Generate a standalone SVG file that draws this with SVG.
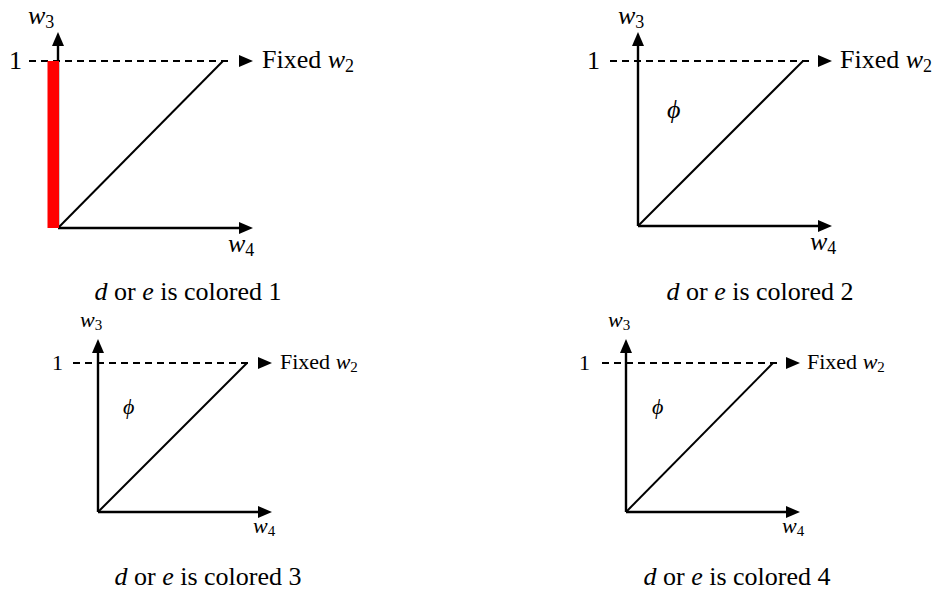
<svg xmlns="http://www.w3.org/2000/svg" xmlns:xlink="http://www.w3.org/1999/xlink" width="936" height="596" viewBox="0 0 936 596">
<style>
.ax{stroke:#000;stroke-width:2.4;fill:none}
.dg{stroke:#000;stroke-width:2;fill:none}
.ds{stroke:#000;stroke-width:2;fill:none;stroke-dasharray:7 5}
text{font-family:'Liberation Serif','Times New Roman','DejaVu Serif',serif;fill:#000}
.m{font-style:italic}
.cap{font-size:26px;text-anchor:middle}
</style>
<defs>
<path id="ah" d="M0,0 L-14,-6 L-14,6 Z" fill="#000"/>
</defs>
<g id="panel1">
<line class="ds" x1="29" y1="61" x2="233" y2="61"/>
<use xlink:href="#ah" transform="translate(253,61)"/>
<line class="ax" x1="58" y1="228" x2="58" y2="43"/>
<use xlink:href="#ah" transform="translate(58,32) rotate(-90)"/>
<line class="ax" x1="58" y1="228" x2="242" y2="228"/>
<use xlink:href="#ah" transform="translate(253,228)"/>
<line class="dg" x1="58" y1="228" x2="223" y2="61"/>
<rect x="47.5" y="61" width="11.5" height="167" fill="#ff0000"/>
<text x="22" y="69" font-size="26" text-anchor="end">1</text>
<text class="m" x="28" y="24" font-size="26">w<tspan font-style="normal" font-size="18" dy="4">3</tspan></text>
<text class="m" x="228" y="252" font-size="26">w<tspan font-style="normal" font-size="18" dy="4">4</tspan></text>
<text x="262" y="68" font-size="26">Fixed <tspan font-style="italic">w</tspan><tspan font-size="18" dy="4">2</tspan></text>
<text class="cap" x="188" y="300"><tspan font-style="italic">d</tspan> or <tspan font-style="italic">e</tspan> is colored 1</text>
</g>
<g id="panel2">
<line class="ds" x1="610" y1="61" x2="812" y2="61"/>
<use xlink:href="#ah" transform="translate(832,61)"/>
<line class="ax" x1="638" y1="226" x2="638" y2="43"/>
<use xlink:href="#ah" transform="translate(638,32) rotate(-90)"/>
<line class="ax" x1="638" y1="226" x2="821" y2="226"/>
<use xlink:href="#ah" transform="translate(832,226)"/>
<line class="dg" x1="638" y1="226" x2="803" y2="61"/>
<text x="600" y="69" font-size="26" text-anchor="end">1</text>
<text class="m" x="667" y="118" font-size="26">ϕ</text>
<text class="m" x="618" y="24" font-size="26">w<tspan font-style="normal" font-size="18" dy="4">3</tspan></text>
<text class="m" x="810" y="250" font-size="26">w<tspan font-style="normal" font-size="18" dy="4">4</tspan></text>
<text x="840" y="68" font-size="26">Fixed <tspan font-style="italic">w</tspan><tspan font-size="18" dy="4">2</tspan></text>
<text class="cap" x="760" y="300"><tspan font-style="italic">d</tspan> or <tspan font-style="italic">e</tspan> is colored 2</text>
</g>
<g id="panel3">
<line class="ds" x1="73" y1="363" x2="252" y2="363"/>
<use xlink:href="#ah" transform="translate(272,363)"/>
<line class="ax" x1="98" y1="512" x2="98" y2="350"/>
<use xlink:href="#ah" transform="translate(98,339) rotate(-90)"/>
<line class="ax" x1="98" y1="512" x2="261" y2="512"/>
<use xlink:href="#ah" transform="translate(272,512)"/>
<line class="dg" x1="98" y1="512" x2="247" y2="363"/>
<text x="63" y="370" font-size="22" text-anchor="end">1</text>
<text class="m" x="123" y="414" font-size="22">ϕ</text>
<text class="m" x="80" y="327" font-size="22">w<tspan font-style="normal" font-size="15" dy="3">3</tspan></text>
<text class="m" x="253" y="533" font-size="22">w<tspan font-style="normal" font-size="15" dy="3">4</tspan></text>
<text x="280" y="369" font-size="22">Fixed <tspan font-style="italic">w</tspan><tspan font-size="15" dy="3">2</tspan></text>
<text class="cap" x="208" y="585"><tspan font-style="italic">d</tspan> or <tspan font-style="italic">e</tspan> is colored 3</text>
</g>
<g id="panel4">
<line class="ds" x1="602" y1="363" x2="781" y2="363"/>
<use xlink:href="#ah" transform="translate(800,363)"/>
<line class="ax" x1="626" y1="512" x2="626" y2="350"/>
<use xlink:href="#ah" transform="translate(626,339) rotate(-90)"/>
<line class="ax" x1="626" y1="512" x2="789" y2="512"/>
<use xlink:href="#ah" transform="translate(800,512)"/>
<line class="dg" x1="626" y1="512" x2="773" y2="363"/>
<text x="590" y="370" font-size="22" text-anchor="end">1</text>
<text class="m" x="652" y="414" font-size="22">ϕ</text>
<text class="m" x="608" y="327" font-size="22">w<tspan font-style="normal" font-size="15" dy="3">3</tspan></text>
<text class="m" x="782" y="533" font-size="22">w<tspan font-style="normal" font-size="15" dy="3">4</tspan></text>
<text x="807" y="369" font-size="22">Fixed <tspan font-style="italic">w</tspan><tspan font-size="15" dy="3">2</tspan></text>
<text class="cap" x="737" y="585"><tspan font-style="italic">d</tspan> or <tspan font-style="italic">e</tspan> is colored 4</text>
</g>
</svg>
